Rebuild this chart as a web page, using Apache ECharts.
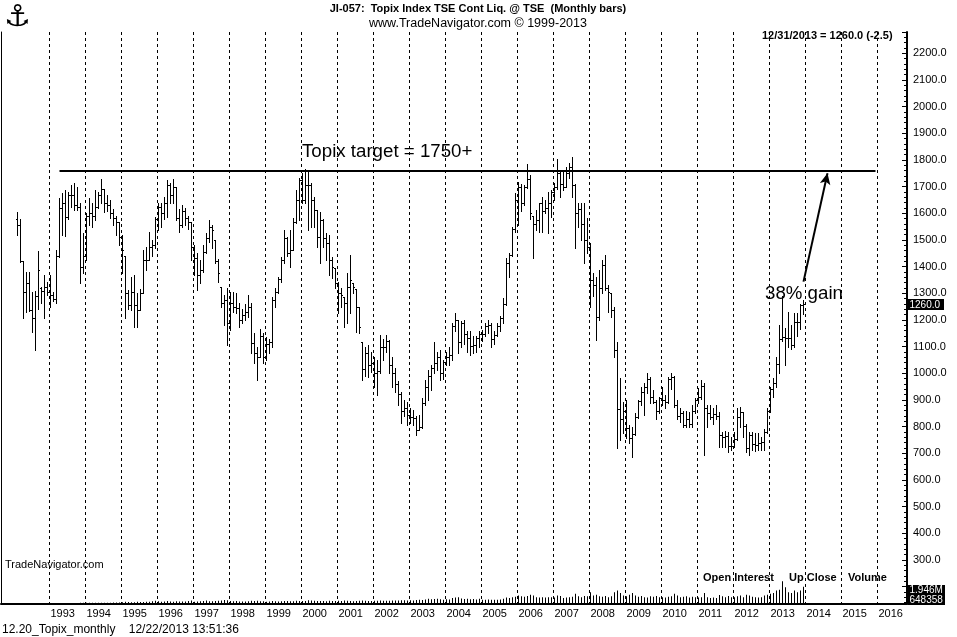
<!DOCTYPE html>
<html><head><meta charset="utf-8">
<script src="https://cdn.jsdelivr.net/npm/echarts@6/dist/echarts.min.js"></script>
<style>html,body{margin:0;padding:0;background:#fff}#c{width:957px;height:637px}</style>
</head><body><div id="c"></div>
<script>
// ---- data: monthly bars [open, high, low, close] ----
const firstBar = '1992-02';
const ohlc1992 = [[1580,1606,1519,1556],[1556,1578,1418,1420],[1420,1420,1207,1306],[1306,1381,1231,1340],[1340,1381,1235,1237],[1237,1306,1156,1206],[1206,1310,1088,1290],[1290,1460,1240,1387],[1320,1325,1265,1310],[1310,1369,1206,1325],[1325,1343,1294,1306]];
const ohlc1993 = [[1306,1369,1250,1294],[1294,1306,1270,1280],[1280,1462,1265,1440],[1440,1657,1437,1620],[1620,1675,1519,1637],[1637,1687,1515,1586],[1586,1681,1580,1670],[1670,1706,1625,1670],[1670,1715,1612,1631],[1631,1700,1612,1625],[1625,1637,1337,1400],[1400,1525,1375,1440]];
const ohlc1994 = [[1440,1600,1425,1590],[1590,1656,1556,1600],[1600,1637,1550,1590],[1590,1687,1575,1625],[1625,1681,1620,1670],[1670,1728,1637,1690],[1690,1690,1606,1640],[1640,1670,1610,1631],[1631,1650,1581,1600],[1600,1618,1556,1581],[1581,1590,1519,1568],[1568,1568,1481,1512]];
const ohlc1995 = [[1512,1520,1375,1462],[1440,1440,1206,1300],[1300,1312,1240,1256],[1256,1362,1237,1306],[1306,1369,1175,1256],[1256,1300,1175,1237],[1237,1318,1237,1300],[1300,1462,1300,1425],[1425,1475,1387,1425],[1425,1531,1425,1475],[1475,1500,1440,1481],[1481,1587,1469,1577]];
const ohlc1996 = [[1577,1637,1537,1625],[1625,1637,1550,1600],[1600,1660,1580,1640],[1640,1725,1587,1706],[1706,1712,1637,1670],[1670,1728,1640,1700],[1700,1700,1575,1581],[1581,1618,1531,1556],[1556,1630,1550,1610],[1610,1620,1556,1581],[1581,1590,1540,1568],[1568,1568,1425,1475]];
const ohlc1997 = [[1475,1481,1369,1431],[1431,1450,1312,1369],[1369,1425,1337,1387],[1387,1481,1380,1456],[1456,1525,1450,1506],[1506,1575,1494,1550],[1550,1556,1469,1537],[1500,1500,1412,1420],[1420,1430,1343,1375],[1325,1325,1250,1262],[1262,1294,1181,1275],[1275,1320,1106,1187]];
const ohlc1998 = [[1187,1306,1162,1262],[1262,1306,1231,1250],[1250,1300,1225,1245],[1245,1262,1175,1200],[1200,1240,1190,1220],[1220,1260,1200,1230],[1230,1294,1212,1250],[1250,1262,1075,1112],[1112,1150,1037,1075],[1075,1100,975,1062],[1062,1168,1062,1140],[1140,1150,1037,1062]];
const ohlc1999 = [[1062,1137,1050,1110],[1110,1130,1075,1119],[1119,1287,1100,1275],[1275,1320,1250,1306],[1306,1362,1300,1352],[1352,1437,1343,1425],[1425,1537,1412,1506],[1506,1510,1440,1452],[1452,1537,1400,1462],[1462,1581,1462,1568],[1568,1687,1562,1650],[1650,1731,1575,1725]];
const ohlc2000 = [[1725,1750,1637,1650],[1650,1765,1640,1706],[1706,1756,1537,1705],[1705,1715,1550,1650],[1650,1662,1550,1612],[1612,1612,1475,1512],[1512,1606,1412,1575],[1575,1580,1475,1506],[1506,1525,1425,1490],[1490,1519,1369,1425],[1425,1437,1356,1400],[1394,1394,1319,1337]];
const ohlc2001 = [[1337,1343,1225,1300],[1300,1320,1250,1294],[1287,1287,1175,1262],[1262,1375,1187,1325],[1325,1444,1225,1350],[1337,1337,1300,1325],[1318,1318,1156,1250],[1250,1250,1150,1175],[1118,1118,975,1018],[1018,1100,990,1075],[1075,1106,987,1031],[1031,1081,1006,1037]];
const ohlc2002 = [[1037,1062,950,1000],[1000,1050,919,1010],[1010,1144,1000,1100],[1100,1130,1050,1100],[1100,1144,1080,1120],[1120,1125,1000,1030],[1030,1062,950,1000],[1000,1020,930,960],[960,970,881,921],[921,930,812,860],[860,900,840,870],[870,894,806,843]];
const ohlc2003 = [[843,869,812,838],[838,862,806,833],[833,840,770,788],[788,844,787,800],[800,907,795,890],[890,975,880,950],[950,1012,900,990],[990,1030,937,1020],[1020,1118,1000,1040],[1040,1081,1012,1060],[1060,1087,975,1000],[1000,1050,980,1043]];
const ohlc2004 = [[1043,1080,1030,1060],[1060,1100,1030,1070],[1070,1187,1050,1179],[1179,1225,1160,1199],[1199,1200,1075,1117],[1117,1195,1100,1189],[1189,1200,1110,1146],[1146,1160,1080,1132],[1132,1160,1070,1102],[1102,1140,1075,1106],[1106,1140,1080,1131],[1131,1160,1100,1149]];
const ohlc2005 = [[1149,1162,1120,1146],[1146,1190,1140,1177],[1177,1200,1150,1182],[1182,1190,1100,1127],[1127,1160,1110,1144],[1144,1190,1140,1177],[1177,1215,1160,1206],[1206,1281,1187,1259],[1259,1431,1255,1412],[1412,1450,1362,1444],[1444,1550,1440,1540],[1540,1675,1531,1650]];
const ohlc2006 = [[1650,1719,1556,1700],[1700,1710,1610,1637],[1637,1706,1630,1700],[1700,1785,1695,1730],[1730,1745,1580,1600],[1590,1590,1431,1560],[1560,1612,1537,1575],[1575,1637,1531,1637],[1637,1662,1531,1610],[1610,1650,1600,1620],[1620,1681,1525,1640],[1640,1687,1587,1680]];
const ohlc2007 = [[1680,1712,1650,1700],[1700,1805,1690,1750],[1750,1756,1660,1710],[1710,1756,1687,1700],[1700,1775,1700,1753],[1753,1787,1731,1774],[1774,1812,1662,1706],[1706,1710,1469,1600],[1600,1637,1550,1616],[1616,1637,1500,1560],[1560,1637,1412,1500],[1500,1581,1450,1475]];
const ohlc2008 = [[1475,1490,1250,1351],[1351,1375,1290,1330],[1330,1362,1125,1212],[1212,1387,1200,1320],[1320,1425,1300,1408],[1408,1444,1312,1320],[1320,1331,1231,1304],[1300,1300,1212,1239],[1239,1250,1062,1087],[1087,1118,719,867],[867,982,750,830],[830,894,775,859]];
const ohlc2009 = [[859,900,757,794],[794,806,740,756],[756,800,687,773],[773,850,770,837],[837,900,832,898],[898,950,880,929],[929,962,844,950],[950,1000,925,980],[980,987,890,910],[910,937,887,894],[894,900,830,860],[860,910,850,907]];
const ohlc2010 = [[907,950,880,901],[901,920,870,894],[894,987,890,979],[979,1000,940,987],[987,990,875,880],[880,900,830,841],[841,870,819,850],[850,860,800,805],[805,860,800,830],[830,856,800,810],[810,881,800,860],[860,906,850,899]];
const ohlc2011 = [[899,945,890,910],[910,975,905,951],[951,962,694,869],[869,881,800,851],[851,881,830,838],[838,870,810,849],[849,880,830,841],[841,856,725,770],[770,781,725,761],[761,785,725,764],[764,780,706,728],[728,762,712,729]];
const ohlc2012 = [[729,781,725,755],[755,869,750,836],[836,872,800,854],[854,856,762,804],[804,810,706,719],[719,781,695,770],[770,781,712,736],[736,775,710,731],[731,775,712,737],[737,760,712,742],[742,790,712,781],[781,869,775,859]];
const ohlc2013 = [[859,950,855,940],[940,981,910,962],[962,1062,950,1034],[1034,1181,1000,1128],[1128,1290,1120,1135],[1135,1169,1031,1133],[1133,1231,1100,1131],[1131,1181,1090,1106],[1106,1225,1100,1194],[1194,1225,1140,1194],[1194,1260,1165,1258],[1258,1275,1222,1260]];

// monthly volume, thousands of contracts
const vol1992 = [10,10,10,10,10,10,10,10,10,10,10];
const vol1993 = [10,10,15,15,15,15,15,15,15,15,20,20];
const vol1994 = [20,20,25,25,30,30,30,35,40,50,60,70];
const vol1995 = [80,140,120,90,100,150,110,130,160,150,200,280];
const vol1996 = [200,150,180,230,180,160,200,170,190,180,230,300];
const vol1997 = [150,180,200,250,300,220,200,240,260,310,350,330];
const vol1998 = [250,200,230,180,170,190,200,260,230,280,220,200];
const vol1999 = [150,170,250,220,190,210,230,240,200,220,260,240];
const vol2000 = [230,250,320,300,260,240,250,230,220,260,240,250];
const vol2001 = [260,240,300,280,250,220,240,270,300,260,240,250];
const vol2002 = [260,280,300,270,260,280,300,290,310,330,320,300];
const vol2003 = [320,300,350,380,350,420,500,450,480,520,450,400];
const vol2004 = [450,430,600,650,700,550,480,500,450,480,430,520];
const vol2005 = [400,380,420,400,380,400,420,500,650,600,700,750];
const vol2006 = [900,800,750,850,1000,900,700,650,700,650,680,700];
const vol2007 = [650,900,850,600,650,700,750,1100,800,700,850,800];
const vol2008 = [1300,900,1000,800,750,850,700,800,1300,1500,1200,900];
const vol2009 = [800,1000,1200,900,750,850,700,650,800,750,850,700];
const vol2010 = [700,650,750,800,1100,900,700,750,800,650,750,700];
const vol2011 = [650,700,1200,700,600,650,600,950,800,700,850,700];
const vol2012 = [700,800,900,700,1000,900,750,700,650,700,900,1000];
const vol2013 = [1100,1200,1500,1600,2600,1900,1300,1200,1500,1300,1500,1946];

const axisStart = '1991-09';   // first month on the time axis
const axisMonths = 302;        // months shown on the time axis
const firstYearLabel = 1993;
const targetLevel = 1760;
const arrowFrom = ['2013-12', 1344];
const arrowTo = ['2014-08', 1750];
const lastChange = -2.5;
const openInterest = 648358;

// ---- build ----
const ohlcYears = [ohlc1992,ohlc1993,ohlc1994,ohlc1995,ohlc1996,ohlc1997,ohlc1998,ohlc1999,ohlc2000,ohlc2001,ohlc2002,ohlc2003,ohlc2004,ohlc2005,ohlc2006,ohlc2007,ohlc2008,ohlc2009,ohlc2010,ohlc2011,ohlc2012,ohlc2013];
const volYears = [vol1992,vol1993,vol1994,vol1995,vol1996,vol1997,vol1998,vol1999,vol2000,vol2001,vol2002,vol2003,vol2004,vol2005,vol2006,vol2007,vol2008,vol2009,vol2010,vol2011,vol2012,vol2013];

const months = [];
{
  let y = +axisStart.slice(0,4), m = +axisStart.slice(5,7);
  for (let i = 0; i < axisMonths; i++) {
    months.push(y + '-' + String(m).padStart(2,'0'));
    m++; if (m > 12) { m = 1; y++; }
  }
}
const startIdx = months.indexOf(firstBar);
const bars = [].concat(...ohlcYears);
const vols = [].concat(...volYears);
const barData = bars.map((b, i) => [startIdx + i, b[0], b[1], b[2], b[3]]);
const volData = vols.map((v, i) => [startIdx + i, v]);
const lastClose = bars[bars.length - 1][3];

const FONT = 'Liberation Sans, Arial, sans-serif';

function renderOHLC(params, api) {
  const k = api.value(0);
  const pO = api.coord([k, api.value(1)]);
  const pH = api.coord([k, api.value(2)]);
  const pL = api.coord([k, api.value(3)]);
  const pC = api.coord([k, api.value(4)]);
  const x = Math.floor(pO[0]) + 0.5;
  const cy = v => Math.round(v) + 0.5;
  const style = { stroke: '#000', lineWidth: 1 };
  return { type: 'group', children: [
    { type: 'line', shape: { x1: x, y1: Math.round(pH[1]), x2: x, y2: Math.round(pL[1]) + 1 }, style },
    { type: 'line', shape: { x1: x - 1.5, y1: cy(pO[1]), x2: x, y2: cy(pO[1]) }, style },
    { type: 'line', shape: { x1: x, y1: cy(pC[1]), x2: x + 1.5, y2: cy(pC[1]) }, style }
  ]};
}

const isYearStart = (idx, val) => val.slice(5) === '01' && +val.slice(0,4) >= firstYearLabel;

const chart = echarts.init(document.getElementById('c'), null, { renderer: 'canvas' });
const option = {
  animation: false,
  backgroundColor: '#fff',
  textStyle: { fontFamily: FONT },
  grid: [
    { left: 1, width: 906, top: 32, height: 572 },
    { left: 1, width: 906, top: 573, height: 30 }
  ],
  xAxis: [
    { type: 'category', gridIndex: 0, data: months, boundaryGap: true,
      axisLine: { show: true, lineStyle: { color: '#000', width: 2 } },
      axisTick: { show: false },
      axisLabel: { interval: isYearStart, formatter: v => v.slice(0,4), align: 'left', margin: 4,
                   color: '#000', fontSize: 11, fontFamily: FONT },
      splitLine: { show: true, interval: isYearStart, lineStyle: { color: '#000', width: 1, type: [3,3] } } },
    { type: 'category', gridIndex: 1, data: months, boundaryGap: true, show: false }
  ],
  yAxis: [
    { type: 'value', gridIndex: 0, position: 'right', min: 135, max: 2280,
      minInterval: 100, maxInterval: 100, splitNumber: 21,
      axisLine: { show: true, lineStyle: { color: '#000', width: 2 } },
      axisTick: { show: true, inside: true, length: 5, lineStyle: { color: '#000' } },
      minorTick: { show: true, splitNumber: 5, length: 3, lineStyle: { color: '#000' } },
      splitLine: { show: false },
      axisLabel: { margin: 6, color: '#000', fontSize: 11, fontFamily: FONT,
                   formatter: v => (v >= 300 && Math.abs(v % 100) < 1e-6) ? v.toFixed(1) : '' } },
    { type: 'value', gridIndex: 0, position: 'left', min: 135, max: 2280,
      axisLine: { show: true, lineStyle: { color: '#000', width: 1 } },
      axisTick: { show: false }, axisLabel: { show: false }, splitLine: { show: false } },
    { type: 'value', gridIndex: 1, min: 0, max: 3600, show: false, splitLine: { show: false } }
  ],
  series: [
    { type: 'custom', xAxisIndex: 0, yAxisIndex: 0, renderItem: renderOHLC,
      encode: { x: 0, y: [1,2,3,4] }, data: barData, clip: true },
    { type: 'bar', xAxisIndex: 1, yAxisIndex: 2, barWidth: 1, data: volData,
      itemStyle: { color: '#000' } },
    { type: 'line', xAxisIndex: 0, yAxisIndex: 0, data: [], silent: true,
      markLine: { silent: true, symbol: ['none','none'], label: { show: false },
        data: [
          [ { coord: ['1993-04', targetLevel], lineStyle: { color: '#000', width: 2, type: 'solid' } },
            { coord: ['2015-12', targetLevel] } ]
        ] } },
    { type: 'line', xAxisIndex: 0, yAxisIndex: 0, data: [], silent: true,
      markLine: { silent: true, symbol: ['none','arrow'], symbolSize: [8, 11], label: { show: false },
        data: [
          [ { coord: arrowFrom, lineStyle: { color: '#000', width: 2, type: 'solid' }, itemStyle: { color: '#000' } },
            { coord: arrowTo } ]
        ] } }
  ]
};
chart.setOption(option);

const yLast = chart.convertToPixel({ yAxisIndex: 0 }, lastClose);
const txt = (x, y, s, opt) => Object.assign({ type: 'text', x, y, style: Object.assign({ text: s, fill: '#000', font: '12px ' + FONT, textVerticalAlign: 'middle' }, opt || {}) });
const box = (x, y, w, h, s) => ({ type: 'group', children: [
  { type: 'rect', shape: { x, y, width: w, height: h }, style: { fill: '#000' } },
  { type: 'text', x: x + 1.5, y: y + h / 2 + 0.5, style: { text: s, fill: '#fff', font: '10px ' + FONT, textVerticalAlign: 'middle' } }
]});
chart.setOption({
  graphic: [
    txt(4, 18, '\u2693', { font: '30px DejaVu Sans' }),
    txt(478, 9, 'JI-057:  Topix Index TSE Cont Liq. @ TSE  (Monthly bars)', { font: 'bold 11px ' + FONT, textAlign: 'center' }),
    txt(478, 24, 'www.TradeNavigator.com \u00a9 1999-2013', { font: '12.5px ' + FONT, textAlign: 'center' }),
    txt(762, 36, '12/31/2013 = ' + lastClose.toFixed(1) + ' (' + lastChange.toFixed(1) + ')', { font: 'bold 11px ' + FONT }),
    txt(302, 152, 'Topix target = 1750+', { font: '18.7px ' + FONT }),
    txt(765, 294, '38% gain', { font: '18.7px ' + FONT }),
    txt(5, 565, 'TradeNavigator.com', { font: '11px ' + FONT }),
    txt(703, 578, 'Open Interest', { font: 'bold 11px ' + FONT }),
    txt(789, 578, 'Up Close', { font: 'bold 11px ' + FONT }),
    txt(848, 578, 'Volume', { font: 'bold 11px ' + FONT }),
    txt(2, 630, '12.20_Topix_monthly    12/22/2013 13:51:36', { font: '12px ' + FONT }),
    box(908, Math.round(yLast) - 5, 36, 11, lastClose.toFixed(1)),
    box(908, 585, 37, 10, (vols[vols.length - 1] / 1000).toFixed(3) + 'M'),
    box(908, 595, 37, 10, String(openInterest))
  ]
});
</script>
</body></html>
